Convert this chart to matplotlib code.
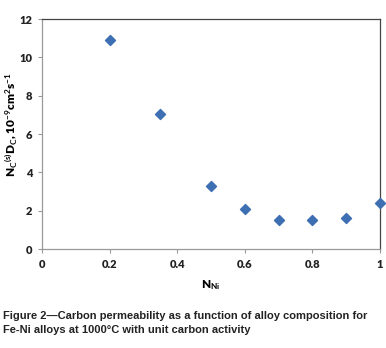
import matplotlib
matplotlib.use("Agg")
import matplotlib.pyplot as plt

x_ni = [0.2, 0.35, 0.5, 0.6, 0.7, 0.8, 0.9, 1.0]
perm = [10.92, 7.04, 3.30, 2.10, 1.50, 1.50, 1.62, 2.40]
xticks = [0, 0.2, 0.4, 0.6, 0.8, 1]
xtick_labels = ["0", "0.2", "0.4", "0.6", "0.8", "1"]
yticks = [0, 2, 4, 6, 8, 10, 12]

plt.rcParams['font.family'] = ['Lato', 'DejaVu Sans']
plt.rcParams['mathtext.fontset'] = 'custom'
plt.rcParams['mathtext.rm'] = 'Lato:bold'
plt.rcParams['mathtext.bf'] = 'Lato:bold'
plt.rcParams['mathtext.it'] = 'Lato:bold'
plt.rcParams['mathtext.default'] = 'bf'

W, H = 386, 348
fig = plt.figure(figsize=(W/100, H/100), dpi=100)
ax = fig.add_axes([42/W, 1-249/H, (380-42)/W, (249-19)/H])
ax.scatter(x_ni, perm, marker='D', s=26, color='#3d6fb2', zorder=3, clip_on=False)
ax.set_xlim(0, 1)
ax.set_ylim(0, 12)
ax.set_xticks(xticks)
ax.set_xticklabels(xtick_labels)
ax.set_yticks(yticks)
for lbl in ax.get_xticklabels() + ax.get_yticklabels():
    lbl.set_fontweight('heavy')
    lbl.set_fontsize(8)
    lbl.set_color('#222222')
ax.tick_params(axis='both', direction='out', length=3, width=0.8, color='#999999', pad=4)
for s in ['left', 'bottom']:
    ax.spines[s].set_color('#999999')
    ax.spines[s].set_linewidth(0.9)
for s in ['top', 'right']:
    ax.spines[s].set_color('#444444')
    ax.spines[s].set_linewidth(0.9)

ax.set_xlabel(r'N$_{Ni}$', fontsize=8.5, fontweight='heavy', va='center')
ax.xaxis.set_label_coords((211-42)/(380-42), -(285-249)/(249-19))
ax.set_ylabel(r'N$_C$$^{(s)}$D$_C$, 10$^{-9}$cm$^2$s$^{-1}$', fontsize=8.5, fontweight='heavy', va='center')
ax.yaxis.set_label_coords(-(42-11)/(380-42), (249-125)/(249-19))

fig.text(3/W, 1-323/H, "Figure 2\u2014Carbon permeability as a function of alloy composition for\nFe-Ni alloys at 1000\u00b0C with unit carbon activity",
         family=['Liberation Sans', 'DejaVu Sans'], fontsize=8, fontweight='bold',
         ha='left', va='center', linespacing=1.45, color='#222222')

fig.savefig('out.png', dpi=100, facecolor='white')
